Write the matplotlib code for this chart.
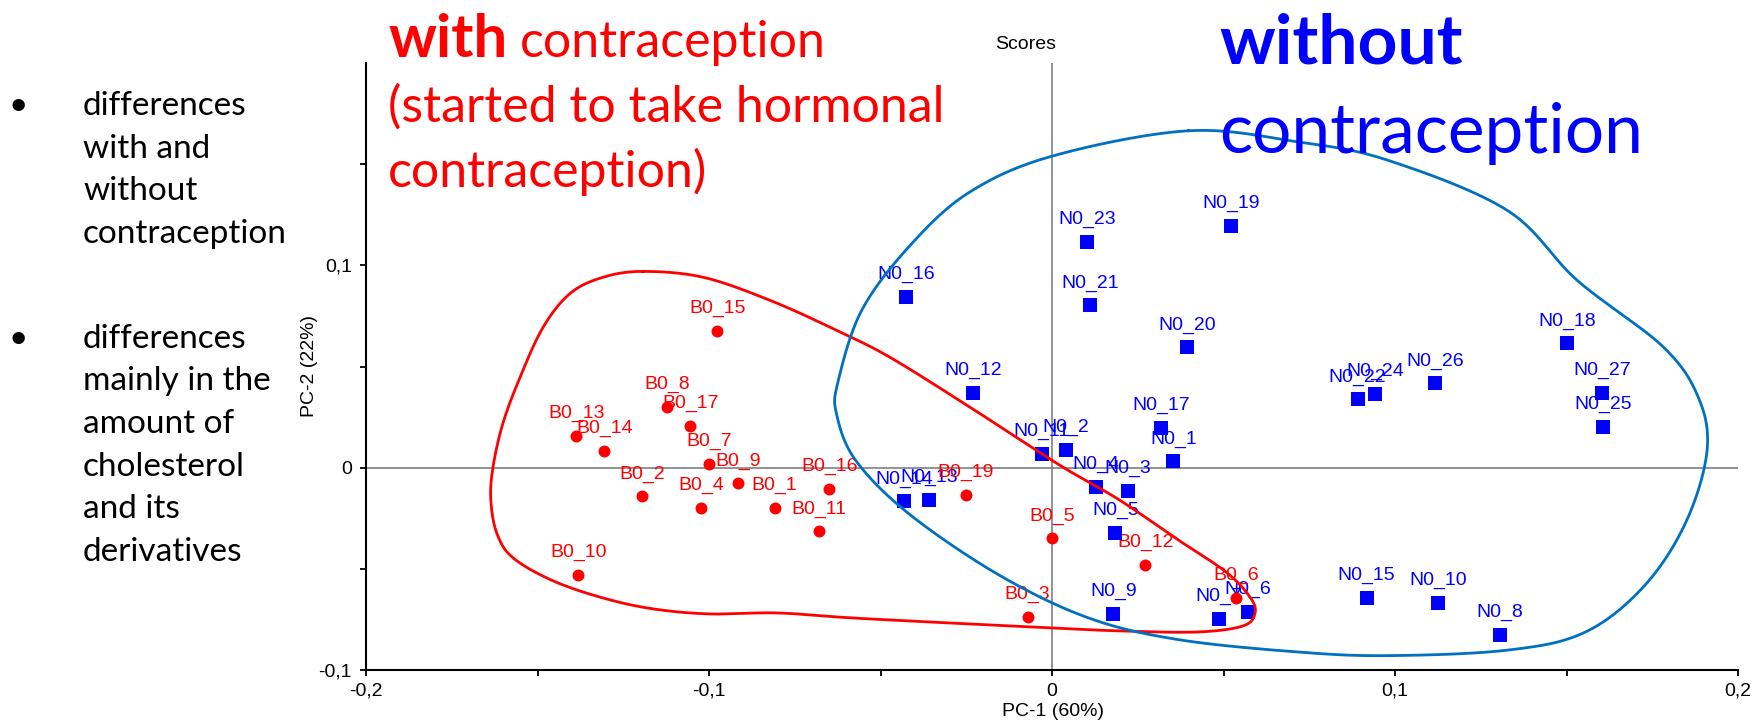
import numpy as np
import matplotlib
matplotlib.use("Agg")
import matplotlib.pyplot as plt
from matplotlib.ticker import FixedLocator, FuncFormatter

W, H = 1756, 724

# PCA scores, group "B0" (with contraception)
b0_names = ["B0_1", "B0_2", "B0_3", "B0_4", "B0_5", "B0_6", "B0_7", "B0_8", "B0_9",
            "B0_10", "B0_11", "B0_12", "B0_13", "B0_14", "B0_15", "B0_16", "B0_17", "B0_19"]
b0_pc1 = [-0.0809, -0.1196, -0.0071, -0.1023, 0.0000, 0.0536, -0.0999, -0.1121, -0.0915,
          -0.1381, -0.0680, 0.0272, -0.1387, -0.1305, -0.0976, -0.0649, -0.1054, -0.0251]
b0_pc2 = [-0.0200, -0.0142, -0.0738, -0.0200, -0.0350, -0.0645, 0.0018, 0.0302, -0.0078,
          -0.0530, -0.0315, -0.0479, 0.0155, 0.0084, 0.0675, -0.0106, 0.0208, -0.0134]

# PCA scores, group "N0" (without contraception)
n0_names = ["N0_%d" % i for i in range(1, 28)]
n0_pc1 = [0.0354, 0.0041, 0.0221, 0.0128, 0.0185, 0.0570, 0.0486, 0.1306, 0.0179,
          0.1126, -0.0030, -0.0229, -0.0358, -0.0431, 0.0917, -0.0426, 0.0318, 0.1501,
          0.0523, 0.0394, 0.0111, 0.0891, 0.0103, 0.0942, 0.1607, 0.1117, 0.1603]
n0_pc2 = [0.0031, 0.0088, -0.0114, -0.0097, -0.0322, -0.0713, -0.0746, -0.0827, -0.0721,
          -0.0670, 0.0068, 0.0370, -0.0158, -0.0167, -0.0642, 0.0842, 0.0198, 0.0614,
          0.1195, 0.0594, 0.0802, 0.0337, 0.1117, 0.0363, 0.0200, 0.0416, 0.0371]

# hand-drawn group outlines (control points in score units)
red_outline_x = [-0.1192, -0.1017, -0.0822, -0.0627, -0.0472, -0.0242, 0.0020, 0.0195,
                 0.0367, 0.0507, 0.0577, 0.0592, 0.0557, 0.0426, 0.0201, 0.0000, -0.0245,
                 -0.0580, -0.0802, -0.0997, -0.1163, -0.1309, -0.1455, -0.1571, -0.1618,
                 -0.1636, -0.1630, -0.1601, -0.1551, -0.1484, -0.1405, -0.1309]
red_outline_y = [0.0970, 0.0941, 0.0827, 0.0678, 0.0545, 0.0302, 0.0015, -0.0158,
                 -0.0356, -0.0515, -0.0639, -0.0718, -0.0782, -0.0812, -0.0807, -0.0792,
                 -0.0772, -0.0743, -0.0718, -0.0723, -0.0698, -0.0644, -0.0559, -0.0446,
                 -0.0327, -0.0163, 0.0000, 0.0218, 0.0446, 0.0693, 0.0861, 0.0941]
blue_outline_x = [0.0398, 0.0717, 0.0978, 0.1327, 0.1531, 0.1780, 0.1883, 0.1910, 0.1849,
                  0.1727, 0.1553, 0.1327, 0.0978, 0.0717, 0.0369, 0.0107, -0.0154, -0.0415,
                  -0.0572, -0.0628, -0.0624, -0.0555, -0.0415, -0.0241, 0.0003]
blue_outline_y = [0.1665, 0.1610, 0.1520, 0.1272, 0.0926, 0.0600, 0.0353, 0.0088, -0.0266,
                  -0.0584, -0.0814, -0.0902, -0.0929, -0.0911, -0.0850, -0.0743, -0.0531,
                  -0.0231, 0.0035, 0.0264, 0.0424, 0.0777, 0.1096, 0.1361, 0.1541]

x_ticks = [-0.2, -0.1, 0.0, 0.1, 0.2]
y_ticks = [-0.1, 0.0, 0.1]


def closed_curve(xs, ys, n=30):
    # periodic Catmull-Rom through the control points
    p = np.column_stack([xs, ys])
    m = len(p)
    t = np.linspace(0, 1, n, endpoint=False)[:, None]
    segs = []
    for i in range(m):
        p0, p1, p2, p3 = p[i - 1], p[i], p[(i + 1) % m], p[(i + 2) % m]
        segs.append(0.5 * (2 * p1 + (p2 - p0) * t
                           + (2 * p0 - 5 * p1 + 4 * p2 - p3) * t ** 2
                           + (3 * p1 - p0 - 3 * p2 + p3) * t ** 3))
    segs.append(p[:1])
    c = np.vstack(segs)
    return c[:, 0], c[:, 1]


def comma(v, pos=None):
    if abs(v) < 1e-9:
        return "0"
    return ("%g" % v).replace(".", ",")


def fx(px):
    return px / W


def fy(py):
    return 1 - py / H


fig = plt.figure(figsize=(W / 100, H / 100), dpi=100)
ax = fig.add_axes([fx(366), fy(670), (1738 - 366) / W, (670 - 63) / H])
ax.set_xlim(-0.2, 0.2)
ax.set_ylim(-0.1, 0.2)

for s in ["top", "right"]:
    ax.spines[s].set_visible(False)
for s in ["left", "bottom"]:
    ax.spines[s].set_linewidth(1.5)
    ax.spines[s].set_color("black")

ax.axhline(0, color="#808080", lw=1.2, zorder=1)
ax.axvline(0, color="#808080", lw=1.2, zorder=1)

ax.xaxis.set_major_locator(FixedLocator(x_ticks))
ax.xaxis.set_minor_locator(FixedLocator([-0.15, -0.05, 0.05, 0.15]))
ax.yaxis.set_major_locator(FixedLocator(y_ticks))
ax.yaxis.set_minor_locator(FixedLocator([-0.05, 0.05, 0.15]))
ax.xaxis.set_major_formatter(FuncFormatter(comma))
ax.yaxis.set_major_formatter(FuncFormatter(comma))
ax.tick_params(which="both", direction="out", length=4, width=1.3, color="black")
ax.tick_params(axis="x", pad=5)
ax.tick_params(axis="y", pad=6)
for lab in ax.get_xticklabels() + ax.get_yticklabels():
    lab.set_family("Liberation Sans")
    lab.set_fontsize(14)

fig.text(fx(1053), fy(712), "PC-1 (60%)", family="Liberation Sans", fontsize=14,
         ha="center", va="center")
fig.text(fx(310), fy(366), "PC-2 (22%)", family="Liberation Sans", fontsize=14,
         ha="center", va="center", rotation=90)
fig.text(fx(1026), fy(49), "Scores", family="Liberation Sans", fontsize=14,
         ha="center", va="baseline")

# scores
ax.plot(n0_pc1, n0_pc2, "s", color="#0000ff", ms=9.4, mew=0, zorder=4)
ax.plot(b0_pc1, b0_pc2, "o", color="#ff0000", ms=8.6, mew=0, zorder=4)
for name, x, y in zip(n0_names, n0_pc1, n0_pc2):
    ax.annotate(name, (x, y), xytext=(0, 13), textcoords="offset points", ha="center",
                va="baseline", color="#0000ff", fontsize=14, family="Liberation Sans", zorder=3)
for name, x, y in zip(b0_names, b0_pc1, b0_pc2):
    ax.annotate(name, (x, y), xytext=(0, 13), textcoords="offset points", ha="center",
                va="baseline", color="#ff0000", fontsize=14, family="Liberation Sans", zorder=3)

# group outlines
rx, ry = closed_curve(red_outline_x, red_outline_y)
ax.plot(rx, ry, color="#ff0000", lw=2.0, zorder=6)
bx, by = closed_curve(blue_outline_x, blue_outline_y)
ax.plot(bx, by, color="#0070c0", lw=2.0, zorder=6)

# headings
font = "Lato"
fig.text(fx(388), fy(57), "with", color="#ff0000", fontsize=43, fontweight="bold",
         family=font, va="baseline")
fig.text(fx(520), fy(57), "contraception", color="#ff0000", fontsize=36,
         family=font, va="baseline")
fig.text(fx(388), fy(122), "(started to take hormonal", color="#ff0000", fontsize=36,
         family=font, va="baseline")
fig.text(fx(388), fy(187), "contraception)", color="#ff0000", fontsize=36,
         family=font, va="baseline")
fig.text(fx(1219), fy(63), "without", color="#0000ff", fontsize=50, fontweight="bold",
         family=font, va="baseline")
fig.text(fx(1219), fy(153), "contraception", color="#0000ff", fontsize=50,
         family=font, va="baseline")

# side notes
notes = [
    (115, ["differences", "with and", "without", "contraception"]),
    (347.7, ["differences", "mainly in the", "amount of", "cholesterol",
             "and its", "derivatives"]),
]
for base, lines in notes:
    fig.text(fx(18), fy(base), "\u2022", fontsize=24, family=font, ha="center", va="baseline")
    for i, line in enumerate(lines):
        fig.text(fx(83), fy(base + i * 42.6), line, fontsize=24, family=font, va="baseline")

fig.savefig("out.png", dpi=100)
